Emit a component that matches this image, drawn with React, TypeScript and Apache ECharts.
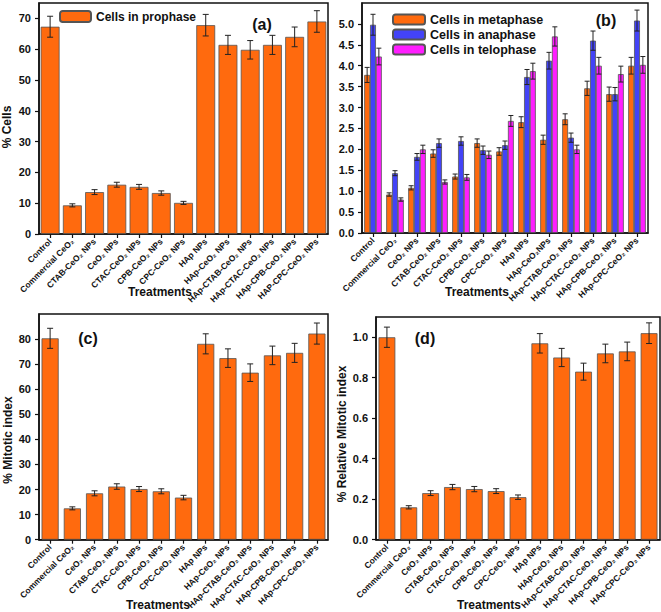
import React, { useEffect, useRef } from "react";
import * as echarts from "echarts";

const catsA = ["Control", "Commercial CeO₂", "CTAB-CeO₂ NPs", "CeO₂ NPs", "CTAC-CeO₂ NPs", "CPB-CeO₂ NPs", "CPC-CeO₂ NPs", "HAp NPs", "HAp-CeO₂ NPs", "HAp-CTAB-CeO₂ NPs", "HAp-CTAC-CeO₂ NPs", "HAp-CPB-CeO₂ NPs", "HAP-CPC-CeO₂ NPs"];
const catsB = ["Control", "Commercial CeO₂", "CeO₂ NPs", "CTAB-CeO₂ NPs", "CTAC-CeO₂ NPs", "CPB-CeO₂ NPs", "CPC-CeO₂ NPs", "HAp NPs", "HAp-CeO₂NPs", "HAp-CTAB-CeO₂ NPs", "HAp-CTAC-CeO₂ NPs", "HAp-CPB-CeO₂ NPs", "HAp-CPC-CeO₂ NPs"];
const catsCD = ["Control", "Commercial CeO₂", "CeO₂ NPs", "CTAB-CeO₂ NPs", "CTAC-CeO₂ NPs", "CPB-CeO₂ NPs", "CPC-CeO₂ NPs", "HAp NPs", "HAp-CeO₂ NPs", "HAp-CTAB-CeO₂ NPs", "HAp-CTAC-CeO₂ NPs", "HAp-CPB-CeO₂ NPs", "HAp-CPC-CeO₂ NPs"];

const prophase = [67.3, 9.3, 13.6, 16.0, 15.3, 13.3, 10.1, 67.8, 61.4, 59.8, 61.4, 64.0, 69.0];
const prophaseErr = [3.4, 0.5, 0.8, 0.8, 0.8, 0.7, 0.5, 3.5, 3.1, 3.0, 3.1, 3.2, 3.5];

const metaphase = [3.78, 0.92, 1.08, 1.9, 1.35, 2.15, 1.95, 2.65, 2.23, 2.72, 3.46, 3.32, 4.0];
const metaphaseErr = [0.18, 0.04, 0.05, 0.09, 0.06, 0.1, 0.09, 0.13, 0.11, 0.13, 0.17, 0.17, 0.2];
const anaphase = [4.98, 1.43, 1.82, 2.15, 2.2, 1.98, 2.1, 3.73, 4.12, 2.28, 4.6, 3.32, 5.08];
const anaphaseErr = [0.25, 0.06, 0.08, 0.1, 0.1, 0.1, 0.1, 0.18, 0.2, 0.11, 0.23, 0.16, 0.25];
const telophase = [4.22, 0.8, 2.0, 1.22, 1.33, 1.87, 2.68, 3.87, 4.7, 2.0, 4.0, 3.8, 4.02];
const telophaseErr = [0.2, 0.04, 0.1, 0.05, 0.07, 0.09, 0.13, 0.19, 0.23, 0.1, 0.2, 0.19, 0.2];

const mitotic = [80.3, 12.5, 18.5, 21.2, 20.2, 19.3, 16.8, 78.1, 72.4, 66.6, 73.5, 74.5, 82.2];
const mitoticErr = [4.0, 0.6, 1.0, 1.1, 1.0, 1.0, 0.9, 4.0, 3.7, 3.5, 3.7, 3.8, 4.2];

const relMitotic = [1.0, 0.16, 0.23, 0.26, 0.25, 0.24, 0.21, 0.97, 0.9, 0.83, 0.92, 0.93, 1.02];
const relMitoticErr = [0.05, 0.008, 0.012, 0.013, 0.013, 0.012, 0.011, 0.048, 0.045, 0.042, 0.046, 0.046, 0.051];

const ticksA = [0, 10, 20, 30, 40, 50, 60, 70];
const ticksB = [0, 0.5, 1, 1.5, 2, 2.5, 3, 3.5, 4, 4.5, 5];
const ticksC = [0, 10, 20, 30, 40, 50, 60, 70, 80];
const ticksD = [0, 0.2, 0.4, 0.6, 0.8, 1.0];

const FONT = "'Liberation Sans', Arial, sans-serif";
const ORANGE = "#FF6A0E";
const BLUE = "#4343F7";
const MAGENTA = "#FF1EFF";
const EDGE = "#555555";

function errSeries(ai: number, vals: number[], errs: number[], k: number, n: number, gap: number, capW: number) {
  return {
    type: "custom",
    xAxisIndex: ai,
    yAxisIndex: ai,
    z: 10,
    silent: true,
    data: vals.map((v, i) => [i, v, errs[i]]),
    encode: { x: 0, y: 1 },
    renderItem: (params: any, api: any) => {
      const i = api.value(0);
      const v = api.value(1);
      const e = api.value(2);
      const band = api.size([1, 0])[0];
      const bw = (band * (1 - gap)) / n;
      const off = (k - (n - 1) / 2) * bw;
      const top = api.coord([i, v + e]);
      const bot = api.coord([i, v - e]);
      const x = top[0] + off;
      const st = { stroke: "#222", lineWidth: 1 };
      return {
        type: "group",
        children: [
          { type: "line", shape: { x1: x, y1: top[1], x2: x, y2: bot[1] }, style: st },
          { type: "line", shape: { x1: x - capW / 2, y1: top[1], x2: x + capW / 2, y2: top[1] }, style: st },
          { type: "line", shape: { x1: x - capW / 2, y1: bot[1], x2: x + capW / 2, y2: bot[1] }, style: st },
        ],
      };
    },
  };
}

function xAxisFor(gi: number, cats: string[]) {
  return {
    type: "category",
    gridIndex: gi,
    data: cats,
    axisLine: { show: true, lineStyle: { color: "#111", width: 1.5 } },
    axisTick: { show: true, alignWithLabel: true, length: 4, lineStyle: { color: "#111", width: 1.2 } },
    axisLabel: {
      rotate: 45,
      interval: 0,
      margin: 6,
      fontSize: 8.5,
      fontWeight: "bold",
      fontFamily: FONT,
      color: "#111",
    },
    splitLine: { show: false },
  };
}

function yAxisFor(gi: number, max: number, interval: number, ticks: number[], dec: number) {
  return {
    type: "value",
    gridIndex: gi,
    min: 0,
    max,
    interval,
    axisLine: { show: true, lineStyle: { color: "#111", width: 1.5 } },
    axisTick: { show: true, length: 4, customValues: ticks, lineStyle: { color: "#111", width: 1.2 } },
    axisLabel: {
      customValues: ticks,
      formatter: (v: number) => v.toFixed(dec),
      margin: 8,
      fontSize: 11,
      fontWeight: "bold",
      fontFamily: FONT,
      color: "#111",
    },
    splitLine: { show: false },
  };
}

function barSeries(name: string, ai: number, data: number[], color: string, gap: string) {
  return {
    name,
    type: "bar",
    xAxisIndex: ai,
    yAxisIndex: ai,
    data,
    barGap: "0%",
    barCategoryGap: gap,
    itemStyle: { color, borderColor: EDGE, borderWidth: 0.8 },
  };
}

function txt(text: string, x: number, y: number, size: number, rot = 0) {
  return {
    type: "text",
    x,
    y,
    rotation: rot,
    style: {
      text,
      fontSize: size,
      fontWeight: "bold",
      fontFamily: FONT,
      fill: "#111",
      textAlign: "center",
      textVerticalAlign: "middle",
    },
  };
}

export default function App() {
  const ref = useRef<HTMLDivElement>(null);
  useEffect(() => {
    if (!ref.current) return;
    const chart = echarts.init(ref.current, undefined, { renderer: "svg" });
    const gridBase = { show: true, borderColor: "#111", borderWidth: 1.5, backgroundColor: "transparent", containLabel: false };
    const legendText = { fontSize: 12, fontWeight: "bold", fontFamily: FONT, color: "#111" };
    chart.setOption({
      animation: false,
      backgroundColor: "#fff",
      grid: [
        { ...gridBase, left: 39, top: 3, width: 289, height: 231 },
        { ...gridBase, left: 362, top: 3, width: 286, height: 230 },
        { ...gridBase, left: 39, top: 314, width: 289, height: 233 },
        { ...gridBase, left: 376, top: 317, width: 284, height: 226 },
      ],
      legend: [
        {
          data: ["Cells in prophase"],
          left: 54,
          top: 5,
          itemWidth: 31,
          itemHeight: 11,
          textStyle: legendText,
          selectedMode: false,
        },
        {
          data: ["Cells in metaphase", "Cells in anaphase", "Cells in telophase"],
          left: 387,
          top: 8,
          orient: "vertical",
          itemGap: 2,
          itemWidth: 32,
          itemHeight: 10,
          textStyle: { ...legendText, fontSize: 12.5 },
          selectedMode: false,
        },
      ],
      xAxis: [xAxisFor(0, catsA), xAxisFor(1, catsB), xAxisFor(2, catsCD), xAxisFor(3, catsCD)],
      yAxis: [
        yAxisFor(0, 75, 5, ticksA, 0),
        yAxisFor(1, 5.5, 0.5, ticksB, 1),
        yAxisFor(2, 90, 10, ticksC, 0),
        yAxisFor(3, 1.1, 0.1, ticksD, 1),
      ],
      series: [
        barSeries("Cells in prophase", 0, prophase, ORANGE, "15%"),
        errSeries(0, prophase, prophaseErr, 0, 1, 0.15, 6),
        barSeries("Cells in metaphase", 1, metaphase, ORANGE, "20%"),
        barSeries("Cells in anaphase", 1, anaphase, BLUE, "20%"),
        barSeries("Cells in telophase", 1, telophase, MAGENTA, "20%"),
        errSeries(1, metaphase, metaphaseErr, 0, 3, 0.2, 5),
        errSeries(1, anaphase, anaphaseErr, 1, 3, 0.2, 5),
        errSeries(1, telophase, telophaseErr, 2, 3, 0.2, 5),
        barSeries("% Mitotic index", 2, mitotic, ORANGE, "23%"),
        errSeries(2, mitotic, mitoticErr, 0, 1, 0.23, 6),
        barSeries("% Relative Mitotic index", 3, relMitotic, ORANGE, "23%"),
        errSeries(3, relMitotic, relMitoticErr, 0, 1, 0.23, 6),
      ],
      graphic: [
        txt("(a)", 262, 24, 16),
        txt("(b)", 606, 20, 16),
        txt("(c)", 88, 338, 16),
        txt("(d)", 425, 338, 16),
        txt("% Cells", 7, 127, 12, Math.PI / 2),
        txt("% Mitotic index", 8, 440, 12, Math.PI / 2),
        txt("% Relative Mitotic index", 342, 434, 12, Math.PI / 2),
        txt("Treatments", 160, 292, 12),
        txt("Treatments", 477, 292, 12),
        txt("Treatments", 158, 605, 12),
        txt("Treatments", 489, 605, 12),
      ],
    });
    return () => chart.dispose();
  }, []);
  return <div ref={ref} style={{ position: "absolute", left: 0, top: 0, width: 661, height: 612 }} />;
}
